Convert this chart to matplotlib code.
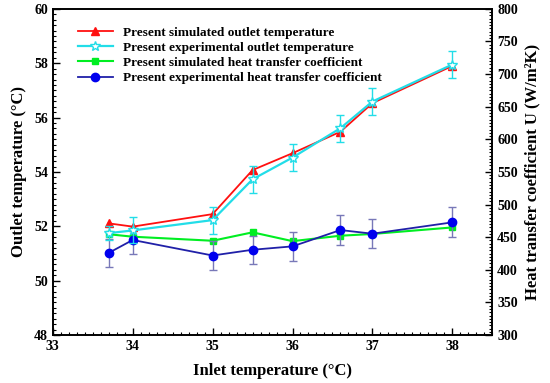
import matplotlib.pyplot as plt
from matplotlib.ticker import MultipleLocator

plt.rcParams['font.family'] = ['Liberation Serif', 'DejaVu Serif']
plt.rcParams['font.weight'] = 'bold'

inlet = [33.7, 34, 35, 35.5, 36, 36.6, 37, 38]

sim_outlet = [52.11, 51.99, 52.45, 54.07, 54.69, 55.48, 56.53, 57.90]
exp_outlet = [51.75, 51.85, 52.23, 53.73, 54.53, 55.61, 56.59, 57.95]
exp_outlet_err = [0.25, 0.48, 0.5, 0.49, 0.5, 0.49, 0.48, 0.5]

sim_u = [454.6, 450.8, 444.6, 457.5, 444.0, 452.3, 455.0, 465.0]
exp_u = [426.0, 445.8, 422.0, 430.8, 436.0, 461.0, 455.4, 472.8]
exp_u_err = [21.5, 22, 21.5, 21.5, 22, 22.5, 22.5, 23]

labels = ['Present simulated outlet temperature',
          'Present experimental outlet temperature',
          'Present simulated heat transfer coefficient',
          'Present experimental heat transfer coefficient']

fig, ax = plt.subplots(figsize=(5.5, 3.83), dpi=100)
fig.subplots_adjust(left=0.096, right=0.895, top=0.977, bottom=0.125)
ax2 = ax.twinx()
ax2.set_zorder(1)
ax.set_zorder(2)
ax.patch.set_visible(False)

# right axis: heat transfer coefficient
l3, = ax2.plot(inlet, sim_u, color='#00ee22', marker='s', markersize=5, lw=1.5, zorder=2)
ax2.errorbar(inlet, exp_u, yerr=exp_u_err, fmt='none', ecolor='#7878b8', elinewidth=1, capsize=3, zorder=3)
l4, = ax2.plot(inlet, exp_u, color='#2020a8', marker='o', markerfacecolor='#0000ee',
               markeredgecolor='#0000ee', markersize=6, lw=1.3, zorder=4)

# left axis: outlet temperature
l1, = ax.plot(inlet, sim_outlet, color='#ff1010', marker='^', markersize=6, lw=1.3, zorder=3)
ax.errorbar(inlet, exp_outlet, yerr=exp_outlet_err, fmt='none', ecolor='#22dde8', elinewidth=1, capsize=3, zorder=4)
l2, = ax.plot(inlet, exp_outlet, color='#22dde8', marker='*', markerfacecolor='white',
              markeredgecolor='#22dde8', markersize=7, lw=1.6, zorder=5)

ax.set_xlim(33, 38.5)
ax.set_ylim(48, 60)
ax2.set_ylim(300, 800)

ax.xaxis.set_major_locator(MultipleLocator(1))
ax.xaxis.set_minor_locator(MultipleLocator(0.1))
ax.yaxis.set_major_locator(MultipleLocator(2))
ax.yaxis.set_minor_locator(MultipleLocator(0.2))
ax2.yaxis.set_major_locator(MultipleLocator(50))
ax2.yaxis.set_minor_locator(MultipleLocator(5))

ax.tick_params(axis='both', which='both', direction='in', labelsize=10, top=False, right=False)
ax.tick_params(which='major', length=5, width=1)
ax.tick_params(which='minor', length=2.5, width=0.8)
ax2.tick_params(axis='y', which='both', direction='in', labelsize=10)
ax2.tick_params(which='major', length=5, width=1)
ax2.tick_params(which='minor', length=2.5, width=0.8)

for a in (ax, ax2):
    for s in a.spines.values():
        s.set_linewidth(1.2)

ax.set_xlabel('Inlet temperature (°C)', fontsize=12, fontweight='bold', labelpad=7)
ax.set_ylabel('Outlet temperature (°C)', fontsize=12, fontweight='bold', labelpad=5)
ax2.set_ylabel('Heat transfer coefficient U (W/m²K)', fontsize=12, fontweight='bold', labelpad=5)

ax.legend([l1, l2, l3, l4], labels, loc='upper left', bbox_to_anchor=(0.04, 0.97),
          frameon=False, handlelength=2.6, labelspacing=0.22, borderaxespad=0.2,
          prop={'weight': 'bold', 'size': 9.5})

fig.savefig('out.png', dpi=100)
